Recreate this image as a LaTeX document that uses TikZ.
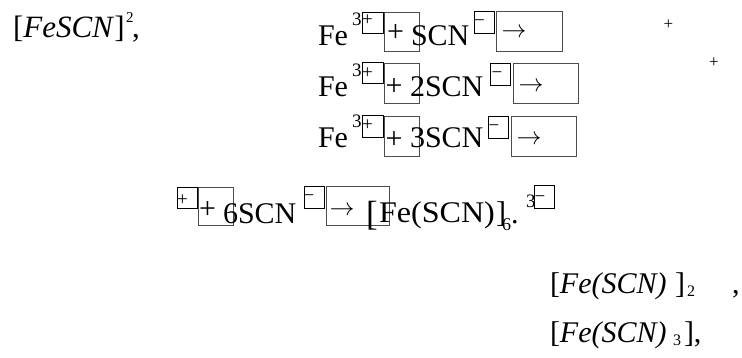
\documentclass[tikz,border=0pt]{standalone}
\usepackage{fontspec}
\usepackage{graphicx}
\setmainfont{Liberation Serif}
\begin{document}
\begin{tikzpicture}[x=1pt,y=-1pt,
  every node/.style={inner sep=0pt, outer sep=0pt},
  big/.style={font=\fontsize{30}{36}\selectfont},
  txt/.style={big, anchor=base west},
  sup/.style={font=\fontsize{19}{22}\selectfont, anchor=base west},
  sub/.style={font=\fontsize{16}{19}\selectfont, anchor=base west},
  supc/.style={font=\fontsize{19}{22}\selectfont, anchor=center},
  bigc/.style={big, anchor=center},
  arr/.style={big, anchor=center},
  gbox/.style={draw=black!70, line width=0.9pt},
  sbox/.style={draw=black, line width=0.9pt}]
\useasboundingbox (0,0) rectangle (742,358);

% top left
\node[font=\fontsize{31}{36}\selectfont, anchor=base west] (tl) at (13,38) {[\textit{FeSCN}]};
\node[font=\fontsize{15}{18}\selectfont, anchor=base west] (tlsup) at (126,23) {2};
\node[font=\fontsize{31}{36}\selectfont, anchor=base west] (tlc) at (132,38) {,};

% row 1
\node[txt] (fe1) at (318,46) {Fe};
\node[sup] (th1) at (352,26) {3};
\draw[sbox] (362,12) rectangle (383,33);
\node[supc] (p1s) at (367.5,20) {+};
\draw[gbox] (384,12) rectangle (419,51);
\node[bigc] (p1) at (395.5,33) {+};
\node[txt] (scn1) at (411,46) {SCN};
\draw[sbox] (474,11) rectangle (494,33);
\node[supc] (m1) at (479.5,23) {−};
\draw[gbox] (496,11) rectangle (562,51);
\node[arr] (a1) at (514,33) {$\rightarrow$};
\node[font=\fontsize{17}{20}\selectfont, anchor=center] (rp1) at (668.5,24.5) {+};

% row 2
\node[txt] (fe2) at (318,97) {Fe};
\node[sup] (th2) at (352,77) {3};
\draw[sbox] (362,62) rectangle (383,83);
\node[supc] (p2s) at (367.5,73) {+};
\draw[gbox] (384,63) rectangle (419,103);
\node[bigc] (p2) at (394,87) {+};
\node[txt] (scn2) at (410,97) {2SCN};
\draw[sbox] (490,63) rectangle (510,85);
\node[supc] (m2) at (497,75) {−};
\draw[gbox] (513,63) rectangle (578,103);
\node[arr] (a2) at (531,87) {$\rightarrow$};
\node[font=\fontsize{17}{20}\selectfont, anchor=center] (rp2) at (714,63) {+};

% row 3
\node[txt] (fe3) at (318,148) {Fe};
\node[sup] (th3) at (352,128) {3};
\draw[sbox] (362,115) rectangle (383,137);
\node[supc] (p3s) at (367.5,125) {+};
\draw[gbox] (384,116) rectangle (419,156);
\node[bigc] (p3) at (394,140) {+};
\node[txt] (scn3) at (410,148) {3SCN};
\draw[sbox] (488,116) rectangle (508,138);
\node[supc] (m3) at (494,128) {−};
\draw[gbox] (511,116) rectangle (576,156);
\node[arr] (a3) at (529,140) {$\rightarrow$};

% row 4
\draw[sbox] (177,187) rectangle (197,208);
\node[supc] (p4s) at (182.5,200) {+};
\draw[gbox] (198,187) rectangle (233,225);
\node[bigc] (p4) at (207.5,210) {+};
\node[txt] (scn4) at (223,224) {6SCN};
\draw[sbox] (304,186) rectangle (324,208);
\node[supc] (m4) at (309,198) {−};
\draw[gbox] (326,186) rectangle (389,225);
\node[arr] (a4) at (342,211) {$\rightarrow$};
\node[font=\fontsize{35}{40}\selectfont, anchor=base west] (lb4) at (366,226) {[};
\node[txt] (fe4) at (379,223) {\scalebox{1.07}[1]{Fe(SCN)}};
\node[txt] (rb4) at (496,223) {]};
\node[font=\fontsize{18}{21}\selectfont, anchor=base west] (six4) at (502,231) {6};
\node[txt] (dot4) at (511,224) {.};
\node[sup] (th4) at (526,208) {3};
\draw[sbox] (534,185) rectangle (554,208);
\node[supc] (m4b) at (540,199) {−};

% bottom rows
\node[txt] (b1) at (550,294) {[\textit{Fe(SCN)}};
\node[txt] (b1rb) at (675,294) {]};
\node[sub] (b1sub) at (687,297) {2};
\node[txt] (b1c) at (732,294) {,};

\node[txt] (b2) at (550,342) {[\textit{Fe(SCN)}};
\node[sub] (b2sub) at (673,345) {3};
\node[txt] (b2rb) at (684,342) {],};
\end{tikzpicture}
\end{document}
